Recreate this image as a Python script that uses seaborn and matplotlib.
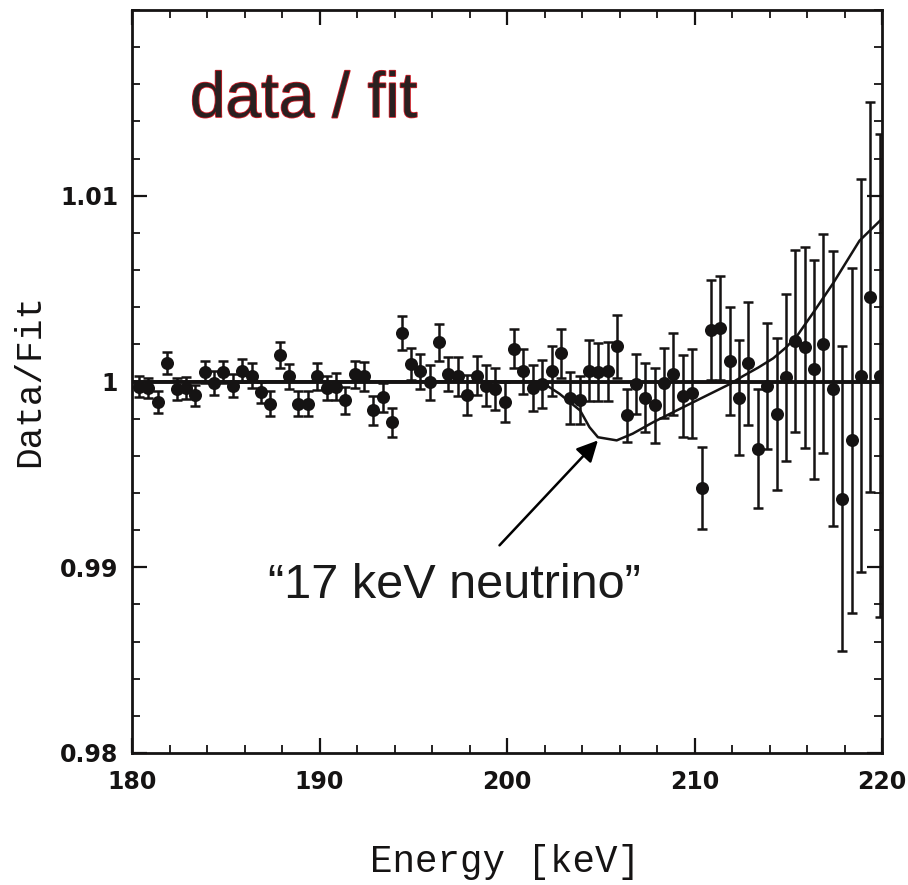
import numpy as np
import pandas as pd
import matplotlib
matplotlib.use("Agg")
import matplotlib.pyplot as plt
import matplotlib.patheffects as pe
from matplotlib.ticker import MultipleLocator, FixedLocator, FixedFormatter
import seaborn as sns

# ---------------- data ----------------
energy = [180.375, 180.875, 181.375, 181.875, 182.375, 182.875, 183.375, 183.875,
          184.375, 184.875, 185.375, 185.875, 186.375, 186.875, 187.375, 187.875,
          188.375, 188.875, 189.375, 189.875, 190.375, 190.875, 191.375, 191.875,
          192.375, 192.875, 193.375, 193.875, 194.375, 194.875, 195.375, 195.875,
          196.375, 196.875, 197.375, 197.875, 198.375, 198.875, 199.375, 199.875,
          200.375, 200.875, 201.375, 201.875, 202.375, 202.875, 203.375, 203.875,
          204.375, 204.875, 205.375, 205.875, 206.375, 206.875, 207.375, 207.875,
          208.375, 208.875, 209.375, 209.875, 210.375, 210.875, 211.375, 211.875,
          212.375, 212.875, 213.375, 213.875, 214.375, 214.875, 215.375, 215.875,
          216.375, 216.875, 217.375, 217.875, 218.375, 218.875, 219.375, 219.875]

ratio = [0.99973, 0.99966, 0.99889, 1.00100, 0.99961, 0.99966, 0.99925, 1.00050,
         0.99991, 1.00050, 0.99978, 1.00059, 1.00032, 0.99942, 0.99880, 1.00140,
         1.00027, 0.99880, 0.99880, 1.00027, 0.99966, 0.99973, 0.99898, 1.00038,
         1.00027, 0.99844, 0.99914, 0.99781, 1.00262, 1.00095, 1.00055, 0.99996,
         1.00211, 1.00041, 1.00027, 0.99925, 1.00032, 0.99978, 0.99961, 0.99889,
         1.00176, 1.00055, 0.99966, 0.99987, 1.00055, 1.00152, 0.99912, 0.99901,
         1.00059, 1.00050, 1.00055, 1.00190, 0.99817, 0.99987, 0.99912, 0.99871,
         0.99991, 1.00041, 0.99921, 0.99937, 0.99428, 1.00278, 1.00289, 1.00109,
         0.99912, 1.00098, 0.99638, 0.99975, 0.99826, 1.00023, 1.00217, 1.00184,
         1.00065, 1.00203, 0.99961, 0.99369, 0.99683, 1.00032, 1.00457, 1.00032]

ratio_err = [0.00054, 0.00054, 0.00058, 0.00060, 0.00060, 0.00060, 0.00056, 0.00058,
             0.00063, 0.00058, 0.00063, 0.00063, 0.00069, 0.00058, 0.00067, 0.00070,
             0.00069, 0.00067, 0.00067, 0.00072, 0.00065, 0.00072, 0.00072, 0.00074,
             0.00078, 0.00079, 0.00076, 0.00079, 0.00090, 0.00085, 0.00094, 0.00094,
             0.00099, 0.00091, 0.00105, 0.00108, 0.00106, 0.00110, 0.00112, 0.00106,
             0.00105, 0.00120, 0.00124, 0.00130, 0.00134, 0.00133, 0.00140, 0.00130,
             0.00164, 0.00157, 0.00160, 0.00170, 0.00143, 0.00160, 0.00185, 0.00200,
             0.00190, 0.00220, 0.00220, 0.00240, 0.00220, 0.00270, 0.00280, 0.00290,
             0.00310, 0.00330, 0.00320, 0.00340, 0.00410, 0.00450, 0.00490, 0.00540,
             0.00590, 0.00590, 0.00740, 0.00820, 0.00930, 0.01060, 0.01050, 0.01300]

fit_energy = [180.0, 220.0]
fit_ratio = [1.0, 1.0]

nu_energy = [180.0, 201.8, 202.8, 203.9, 204.4, 204.85, 205.85, 206.7, 207.8,
             210.0, 211.9, 212.6, 213.4, 214.2, 214.9, 215.5, 216.35, 217.4,
             218.8, 220.0]
nu_ratio = [1.0, 1.0, 0.99934, 0.99844, 0.99754, 0.99700, 0.99683, 0.99719, 0.99781,
            0.99892, 0.99987, 1.00030, 1.00075, 1.00125, 1.00185, 1.00250, 1.00373,
            1.00530, 1.00758, 1.00876]

ytick_vals = [0.98, 0.99, 1.0, 1.01]
ytick_labels = ["0.98", "0.99", "1", "1.01"]
xtick_vals = [180, 190, 200, 210, 220]

df = pd.DataFrame({"energy": energy, "ratio": ratio, "err": ratio_err})
df_fit = pd.DataFrame({"energy": fit_energy, "ratio": fit_ratio})
df_nu = pd.DataFrame({"energy": nu_energy, "ratio": nu_ratio})

# ---------------- figure ----------------
sns.set_theme(style="ticks")
plt.rcParams["font.family"] = ["DejaVu Sans"]

W, H = 908, 885
fig = plt.figure(figsize=(W / 100, H / 100), dpi=100)
fig.patch.set_facecolor("white")
ax = fig.add_axes([132 / W, 1 - 753 / H, 750 / W, 743 / H])
ax.set_facecolor("white")

ink = "#151313"

# fit line and neutrino curve
sns.lineplot(data=df_fit, x="energy", y="ratio", ax=ax, color=ink, linewidth=2.8,
             legend=False, zorder=2)
sns.lineplot(data=df_nu, x="energy", y="ratio", ax=ax, color=ink, linewidth=1.8,
             legend=False, zorder=2, sort=False)

# error bars + points
ax.errorbar(df["energy"], df["ratio"], yerr=df["err"], fmt="none", ecolor=ink,
            elinewidth=1.8, capsize=3.4, capthick=1.8, zorder=3)
sns.scatterplot(data=df, x="energy", y="ratio", ax=ax, color=ink, s=88,
                edgecolor=ink, linewidth=0, zorder=4, legend=False)

ax.set_xlim(180, 220)
ax.set_ylim(0.98, 1.02)

ax.xaxis.set_major_locator(FixedLocator(xtick_vals))
ax.xaxis.set_minor_locator(MultipleLocator(2))
ax.yaxis.set_major_locator(FixedLocator(ytick_vals))
ax.yaxis.set_major_formatter(FixedFormatter(ytick_labels))
ax.yaxis.set_minor_locator(MultipleLocator(0.002))

ax.tick_params(which="both", direction="in", top=True, right=True, colors=ink)
ax.tick_params(which="major", length=11, width=1.6, labelsize=17, pad=10)
ax.tick_params(which="minor", length=6, width=1.3)
ax.tick_params(axis="x", which="major", pad=12)
for lab in ax.get_xticklabels() + ax.get_yticklabels():
    lab.set_fontweight("bold")
for s in ax.spines.values():
    s.set_linewidth(2.0)
    s.set_color(ink)
    s.set_visible(True)

ax.set_xlabel("")
ax.set_ylabel("")

# axis labels
fig.text(505 / W, 1 - 862 / H, "Energy [keV]", ha="center", va="center",
         family=["Liberation Mono", "DejaVu Sans Mono"], fontsize=27, color=ink)
fig.text(30 / W, 1 - 380 / H, "Data/Fit", ha="center", va="center", rotation=90,
         family=["Liberation Mono", "DejaVu Sans Mono"], fontsize=26, color=ink)

# title inside plot
fig.text(190 / W, 1 - 117 / H, "data / fit", ha="left", va="baseline",
         family=["Liberation Sans", "DejaVu Sans"], fontsize=46, color="#2a2020",
         path_effects=[pe.withStroke(linewidth=1.2, foreground="#d0202a")])

# annotation
ax.annotate("", xy=(204.85, 0.99683), xytext=(199.6, 0.99118),
            arrowprops=dict(arrowstyle="-|>", color="black", lw=1.8,
                            mutation_scale=32, shrinkA=0, shrinkB=0))
ax.text(187.25, 0.98833, "\u201c17 keV neutrino\u201d", ha="left", va="baseline",
        family=["Liberation Sans", "DejaVu Sans"], fontsize=35, color="#1a1a1a")

fig.savefig("out.png", dpi=100)
